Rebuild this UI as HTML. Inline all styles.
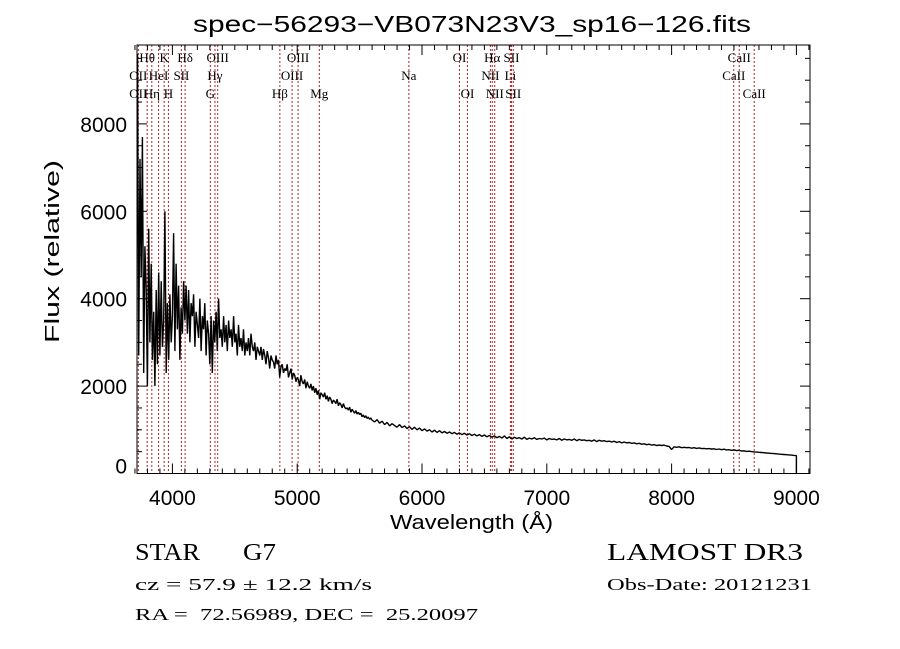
<!DOCTYPE html>
<html><head><meta charset="utf-8"><style>
body{margin:0;background:#fff;}
svg{display:block;}
.t{font-family:"Liberation Sans",sans-serif;fill:#000;}
.s{font-family:"Liberation Serif",serif;fill:#000;white-space:pre;}
</style></head><body>
<svg id="c" width="900" height="649" xmlns="http://www.w3.org/2000/svg">
<defs><clipPath id="clip"><rect x="137" y="45" width="673" height="428.5"/></clipPath></defs>
<text class="t" x="193" y="32" font-size="23" textLength="558" lengthAdjust="spacingAndGlyphs">spec−56293−VB073N23V3_sp16−126.fits</text>
<g id="lines" clip-path="url(#clip)"></g>
<g id="labels"></g>
<path id="spec" fill="none" stroke="#000" stroke-width="1.4" stroke-linejoin="bevel" clip-path="url(#clip)"/>
<rect x="137" y="45" width="673" height="428.5" fill="none" stroke="#000" stroke-width="1"/>
<g id="ticks" stroke="#000" stroke-width="1"></g>
<g id="tlabels"></g>
<text class="t" x="390" y="529" font-size="20" textLength="163" lengthAdjust="spacingAndGlyphs">Wavelength (Å)</text>
<text class="t" font-size="20" textLength="183" lengthAdjust="spacingAndGlyphs" transform="translate(59,343) rotate(-90)">Flux (relative)</text>
<text class="s" x="135" y="560" font-size="24" textLength="65" lengthAdjust="spacingAndGlyphs">STAR</text>
<text class="s" x="243" y="560" font-size="24" textLength="33" lengthAdjust="spacingAndGlyphs">G7</text>
<text class="s" x="135" y="590" font-size="17" textLength="237" lengthAdjust="spacingAndGlyphs">cz = 57.9 ± 12.2 km/s</text>
<text class="s" x="135" y="620" font-size="17" textLength="343" lengthAdjust="spacingAndGlyphs">RA =  72.56989, DEC =  25.20097</text>
<text class="s" x="607" y="560" font-size="24" textLength="196" lengthAdjust="spacingAndGlyphs">LAMOST DR3</text>
<text class="s" x="607" y="590" font-size="17" textLength="205" lengthAdjust="spacingAndGlyphs">Obs-Date: 20121231</text>
</svg>
<script>
const blueStart = 3700, blueStep = 10;
const fluxBlue = [8800,3000,9600,2700,7200,4500,7700,2300,5200,4200,
2000,5600,3000,4800,2600,3700,2000,4200,2500,4600,
2700,4400,2900,3500,6000,2300,3900,2600,4100,3000,
3600,5500,2800,4800,3300,4300,2600,3800,3200,4400,
3500,4300,3200,4200,3000,3900,3600,4100,2900,3700,
3400,3100,4000,2800,3600,3300,3900,2700,3500,3200,
2500,3600,2300,3500,3000,3700,2800,4000,3100,3300,
2900,3600,3000,3400,2800,3500,3100,3300,2900,3600,
3000,3200,2700,3400,2900,3100,2800,3300,2700,3000,
2800,3100,2700,3200,2900,2800,3000,2600,2900,2800,
2700,2900,2600,2850,2700,2500,2800,2650,2400,2700,
2600,2550,2400,2700,2500,2600,2200,2450,2500,2300,
2400,2350,2500,2200,2300,2400,2150,2300,2250,2100,
2200,2150,2000,2250,2100,2050,2150,1950,2100,2000,
1950,2050,1900,2000,1850,1950,1800,1900,1700,1850,
1800,1750,1850,1700,1780,1650,1750,1700,1600,1680,
1650,1600,1700,1550,1620,1580,1500,1600,1520,1480,
1500,1450,1520,1400,1470,1420,1380,1440,1360,1400,
1350,1380,1300,1340,1280,1320,1260,1290,1240,1270,1220];
const redStart = 5620, redStep = 20;
const fluxRed = [1180,1230,1150,1200,1120,1170,1090,1140,1100,1060,1120,1050,1090,1030,1070,1010,1060,1000,1040,980,
1020,970,1000,950,990,940,980,930,960,920,950,910,940,900,930,890,920,880,910,870,
900,860,890,850,880,840,870,830,860,820,850,810,860,800,840,790,830,800,820,790,
830,780,810,790,820,780,800,790,810,770,800,780,790,770,800,760,790,770,780,760,
790,750,780,760,770,750,760,740,770,730,760,740,750,730,740,720,740,710,730,700,
720,700,710,690,700,680,690,670,680,660,670,650,660,640,650,640,650,630,620,550,
610,600,610,590,600,590,595,580,590,575,585,570,575,565,570,560,565,550,560,545,
555,540,545,530,540,525,530,515,520,505,510,500,495,490,485,480,475,470,465,460,
455,450,445,440,435,430,425,420,415,410];
const lineWaves = [3727,3798,3835,3889,3934,3968,4072,4102,4304,4341,4363,4861,4959,5007,5177,5895,6300,6364,6548,6563,6583,6708,6717,6731,8498,8542,8662];
const labelText = ["Hθ","K","Hδ","OIII","OIII","OI","Hα","SII","CaII",
"OII","HeI","SII","Hγ","OIII","Na","NII","Li","CaII",
"OII","Hη","H","G","Hβ","Mg","OI","NII","SII","CaII"];
const labelWave = [3798,3934,4102,4363,5007,6300,6563,6717,8542,
3727,3889,4072,4341,4959,5895,6548,6708,8498,
3727,3835,3968,4304,4861,5177,6364,6583,6731,8662];
const labelRow = [0,0,0,0,0,0,0,0,0,1,1,1,1,1,1,1,1,1,2,2,2,2,2,2,2,2,2,2];
const xTicks = [4000,5000,6000,7000,8000,9000];
const yTicks = [0,2000,4000,6000,8000];

const NS="http://www.w3.org/2000/svg";
function X(w){return 172.4+(w-4000)*0.1248;}
function Y(f){return 473.5-f*0.0437;}
function mk(tag,attrs,parent){const e=document.createElementNS(NS,tag);for(const k in attrs)e.setAttribute(k,attrs[k]);parent.appendChild(e);return e;}

let d="";
fluxBlue.forEach((f,i)=>{d+=(i?"L":"M")+X(blueStart+i*blueStep).toFixed(1)+","+Y(f).toFixed(1);});
fluxRed.forEach((f,i)=>{d+="L"+X(redStart+i*redStep).toFixed(1)+","+Y(f).toFixed(1);});
d+="L"+X(redStart+(fluxRed.length-1)*redStep).toFixed(1)+","+Y(0).toFixed(1);
document.getElementById('spec').setAttribute('d',d);

const gl=document.getElementById('lines');
lineWaves.forEach(w=>{
  const l=mk('line',{x1:X(w),x2:X(w),y1:45,y2:473.5,stroke:'#b22222','stroke-width':1,'stroke-dasharray':'2,2'},gl);
  
  
});
const glb=document.getElementById('labels');
labelText.forEach((t,i)=>{
  const e=mk('text',{x:X(labelWave[i]),y:62+labelRow[i]*18,'font-size':13,'text-anchor':'middle',class:'s'},glb);
  e.textContent=t;
  
  
});
const gt=document.getElementById('ticks'), gtl=document.getElementById('tlabels');
for(let w=3700;w<=9100;w+=100){
  const major=w%1000===0, len=major?10:5;
  mk('line',{x1:X(w),x2:X(w),y1:473.5,y2:473.5-len},gt);
  mk('line',{x1:X(w),x2:X(w),y1:45,y2:45+len},gt);
}
xTicks.forEach(w=>{
  const e=mk('text',{x:X(w),y:505,'font-size':21,'text-anchor':'middle',class:'t'},gtl);
  e.textContent=w;
  
  
});
for(let f=0;f<=9500;f+=500){
  const major=f%2000===0, len=major?10:5;
  mk('line',{x1:137,x2:137+len,y1:Y(f),y2:Y(f)},gt);
  mk('line',{x1:810,x2:810-len,y1:Y(f),y2:Y(f)},gt);
}
yTicks.forEach(f=>{
  const e=mk('text',{x:127,y:(f===0?Y(f)-0:Y(f)+8),'font-size':21,'text-anchor':'end',class:'t'},gtl);
  e.textContent=f;
  
  
});
</script>
</body></html>
